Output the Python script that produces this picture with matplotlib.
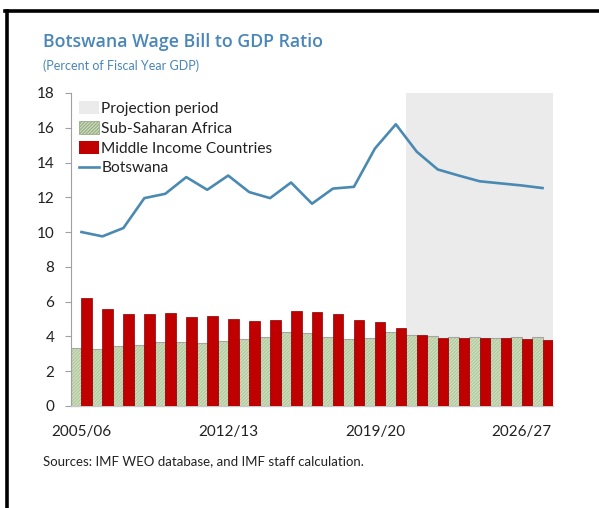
import matplotlib
matplotlib.use("Agg")
import matplotlib.pyplot as plt
from matplotlib.patches import Patch
from matplotlib.lines import Line2D
import numpy as np

plt.rcParams['font.family'] = ['Lato', 'DejaVu Sans']

years = [f"{y}/{(y + 1) % 100:02d}" for y in range(2005, 2028)]
tick_labels = ["2005/06", "2012/13", "2019/20", "2026/27"]
projection_start = "2021/22"

ssa = [3.31, 3.27, 3.42, 3.48, 3.65, 3.68, 3.62, 3.71, 3.85, 3.98, 4.27, 4.21,
       3.94, 3.83, 3.90, 4.25, 4.10, 4.00, 3.98, 3.94, 3.92, 3.98, 3.94]
mic = [6.19, 5.56, 5.27, 5.29, 5.33, 5.10, 5.17, 5.02, 4.90, 4.94, 5.44, 5.40,
       5.31, 4.96, 4.81, 4.46, 4.10, 3.92, 3.88, 3.90, 3.88, 3.85, 3.79]
botswana = [10.0, 9.75, 10.23, 11.95, 12.2, 13.16, 12.43, 13.25, 12.3, 11.95,
            12.85, 11.63, 12.5, 12.6, 14.8, 16.2, 14.62, 13.6, 13.25, 12.92,
            12.8, 12.68, 12.53]

RED = "#c00000"
GREEN = "#d4e4c4"
HATCH = "#b3c9a0"
BLUE = "#4a8ab2"
TITLE_BLUE = "#4a86b8"
SHADE = "#ebebeb"

fig = plt.figure(figsize=(5.99, 5.08), dpi=100)
ax = fig.add_axes([71 / 599, 1 - 405.8 / 508, 482 / 599, 312.8 / 508])

x = np.arange(len(years))
p0 = years.index(projection_start)
ax.axvspan(p0 - 0.5, len(years) - 0.5, color=SHADE, lw=0, zorder=0)

w = 0.5
ax.bar(x - w / 2, ssa, width=w, color=GREEN, edgecolor=HATCH, hatch="/" * 10,
       linewidth=0, zorder=2)
ax.bar(x - w / 2, ssa, width=w, fill=False, edgecolor="#a5a5a5",
       linewidth=0.8, zorder=2.5)
ax.bar(x + w / 2, mic, width=w, color=RED, edgecolor="#8a0000",
       linewidth=0.5, zorder=3)
ax.plot(x, botswana, color=BLUE, lw=1.9, zorder=4)

ax.set_xlim(-0.5, len(years) - 0.5)
ax.set_ylim(0, 18)
ax.set_yticks(np.arange(0, 19, 2))
ax.set_xticks([years.index(t) for t in tick_labels])
ax.set_xticklabels(tick_labels)
ax.tick_params(axis="x", length=0, pad=14, labelsize=11, colors="#222222")
ax.tick_params(axis="y", length=4, width=0.8, color="#a0a0a0", pad=8,
               labelsize=11, labelcolor="#222222")
for s in ("top", "right"):
    ax.spines[s].set_visible(False)
ax.spines["left"].set_color("#a0a0a0")
ax.spines["bottom"].set_color("#c8c8c8")
ax.spines["left"].set_linewidth(0.8)
ax.spines["bottom"].set_linewidth(1.0)

handles = [
    Patch(facecolor=SHADE, edgecolor="none"),
    Patch(facecolor=GREEN, edgecolor="#9aae8a", hatch="/" * 10, linewidth=0.6),
    Patch(facecolor=RED, edgecolor="none"),
    Line2D([0], [0], color=BLUE, lw=1.9),
]
labels = ["Projection period", "Sub-Saharan Africa", "Middle Income Countries",
          "Botswana"]
ax.legend(handles, labels, loc="upper left", bbox_to_anchor=(0.0, 1.0),
          frameon=False, fontsize=11.2, handlelength=1.3, handleheight=0.9,
          handletextpad=0.15, labelspacing=0.33, borderaxespad=0.3,
          borderpad=0.2, labelcolor="#222222")

fig.text(43 / 599, 1 - 42 / 508, "Botswana Wage Bill to GDP Ratio",
         fontsize=12.8, fontweight="semibold", color=TITLE_BLUE,
         family=["Open Sans", "DejaVu Sans"], va="center", ha="left")
fig.text(43 / 599, 1 - 66 / 508, "(Percent of Fiscal Year GDP)",
         fontsize=9.0, color=TITLE_BLUE, va="center", ha="left")
fig.text(43 / 599, 1 - 461 / 508, "Sources: IMF WEO database, and IMF staff calculation.",
         fontsize=9.5, color="#222222", va="center", ha="left")

# outer frame: thick black rule along the top and left edges
fig.add_artist(Line2D([6.5 / 599, 6.5 / 599], [0, 1 - 10.5 / 508],
                      color="black", lw=2.6, transform=fig.transFigure))
fig.add_artist(Line2D([5 / 599, 1], [1 - 10.5 / 508, 1 - 10.5 / 508],
                      color="black", lw=2.6, transform=fig.transFigure))

fig.savefig("out.png", dpi=100)
